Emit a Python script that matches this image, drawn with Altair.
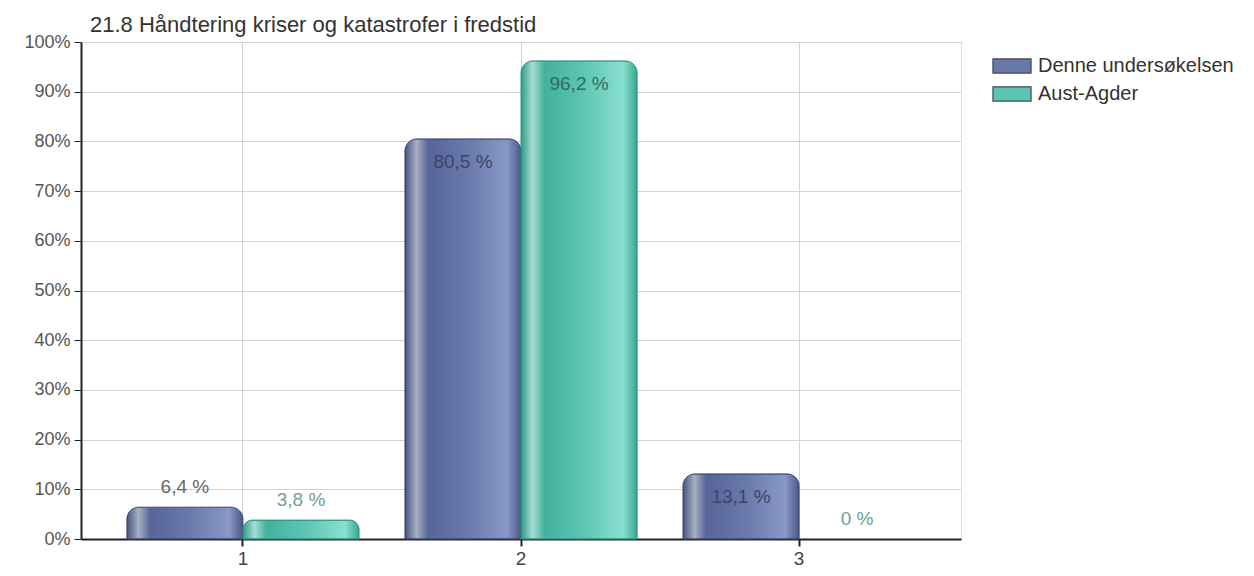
import altair as alt
import pandas as pd

categories = ["1", "2", "3"]
series = ["Denne undersøkelsen", "Aust-Agder"]
denne = [6.4, 80.5, 13.1]
aust = [3.8, 96.2, 0.0]
y_ticks = [0, 10, 20, 30, 40, 50, 60, 70, 80, 90, 100]
title_text = "21.8 Håndtering kriser og katastrofer i fredstid"

rows = []
for c, v in zip(categories, denne):
    rows.append({"cat": c, "series": series[0], "v": v})
for c, v in zip(categories, aust):
    rows.append({"cat": c, "series": series[1], "v": v})
df = pd.DataFrame(rows)

FONT = "Liberation Sans"
blue = "#6878a8"
teal = "#5cc4b2"

x_enc = alt.X(
    "cat:N",
    sort=categories,
    scale=alt.Scale(paddingInner=0.165, paddingOuter=0.165),
    axis=alt.Axis(
        title=None, labelAngle=0, bandPosition=0.5, grid=True,
        gridColor="#d2d4d7", domainColor="#222", domainWidth=2,
        tickColor="#222", tickWidth=2, tickSize=7, labelPadding=3,
        labelFontSize=19, labelColor="#444", labelFont=FONT,
    ),
)
xo_enc = alt.XOffset("series:N", sort=series,
                     scale=alt.Scale(domain=series, paddingInner=0, paddingOuter=0))
y_enc = alt.Y(
    "v:Q",
    scale=alt.Scale(domain=[0, 100], nice=False),
    axis=alt.Axis(
        title=None, values=y_ticks, labelExpr="datum.value + '%'",
        gridColor="#d2d4d7", domainColor="#222", domainWidth=2,
        tickColor="#222", tickSize=7, labelPadding=4,
        labelFontSize=18, labelColor="#555", labelFont=FONT,
    ),
)

base = alt.Chart(df)

legend_layer = base.mark_bar(opacity=0).encode(
    x=x_enc, xOffset=xo_enc, y=y_enc,
    color=alt.Color(
        "series:N", sort=series,
        scale=alt.Scale(domain=series, range=[blue, teal]),
        legend=alt.Legend(
            title=None, orient="none", legendX=915, legendY=8,
            symbolType="M-1.27,-0.47L1.27,-0.47L1.27,0.47L-1.27,0.47Z", symbolSize=900,
            symbolStrokeColor="#445", symbolStrokeWidth=1.2, symbolOpacity=1,
            labelFontSize=20, labelColor="#333", labelFont=FONT,
            labelOffset=10, rowPadding=2, padding=0, labelLimit=300,
        ),
    ),
)

grad_blue = alt.Gradient(
    gradient="linear", x1=0, x2=1, y1=0, y2=0,
    stops=[
        alt.GradientStop(offset=0, color="#45537d"),
        alt.GradientStop(offset=0.1, color="#a9b0c3"),
        alt.GradientStop(offset=0.2, color="#56659a"),
        alt.GradientStop(offset=0.55, color="#6a7aac"),
        alt.GradientStop(offset=0.88, color="#8898c8"),
        alt.GradientStop(offset=1, color="#4a5886"),
    ],
)
grad_teal = alt.Gradient(
    gradient="linear", x1=0, x2=1, y1=0, y2=0,
    stops=[
        alt.GradientStop(offset=0, color="#2e9a88"),
        alt.GradientStop(offset=0.1, color="#a8ddd3"),
        alt.GradientStop(offset=0.2, color="#45b09e"),
        alt.GradientStop(offset=0.55, color="#5ec6b4"),
        alt.GradientStop(offset=0.88, color="#8adfd0"),
        alt.GradientStop(offset=1, color="#3aa593"),
    ],
)

bar_blue = base.transform_filter(
    (alt.datum.series == series[0]) & (alt.datum.v > 0)
).mark_bar(
    fill=grad_blue, stroke="#3d4a72", strokeWidth=1,
    cornerRadiusTopLeft=12, cornerRadiusTopRight=12,
).encode(x=x_enc, xOffset=xo_enc, y=y_enc)

bar_teal = base.transform_filter(
    (alt.datum.series == series[1]) & (alt.datum.v > 0)
).mark_bar(
    fill=grad_teal, stroke="#2f9482", strokeWidth=1,
    cornerRadiusTopLeft=12, cornerRadiusTopRight=12,
).encode(x=x_enc, xOffset=xo_enc, y=y_enc)

lbl = base.transform_calculate(
    label="datum.v == 0 ? '0 %' : replace(format(datum.v, '.1f'), '.', ',') + ' %'"
)

text_in = lbl.transform_filter(alt.datum.v > 10).mark_text(
    dy=23, fontSize=19, font=FONT, baseline="middle"
).encode(
    x=x_enc, xOffset=xo_enc, y=y_enc, text="label:N",
    color=alt.condition(alt.datum.series == series[1],
                        alt.value("#2d6e63"), alt.value("#3a4568")),
)
text_out = lbl.transform_filter(alt.datum.v <= 10).mark_text(
    dy=-20, fontSize=19, font=FONT, baseline="middle"
).encode(
    x=x_enc, xOffset=xo_enc, y=y_enc, text="label:N",
    color=alt.condition(alt.datum.series == series[1],
                        alt.value("#6f9f98"), alt.value("#666666")),
)

chart = alt.layer(legend_layer, bar_blue, bar_teal, text_in, text_out).properties(
    width=880, height=497,
    title=alt.TitleParams(title_text, anchor="start", frame="group", dx=9, dy=11,
                          fontSize=22, fontWeight="normal", font=FONT,
                          color="#333", offset=7),
    autosize=alt.AutoSizeParams(type="none"),
    padding={"left": 73, "top": 34, "right": 285, "bottom": 29},
).configure_view(
    fill="#e7e8ea", stroke="#9c9c9c", strokeWidth=1.5,
).configure(background="white")

chart.save("out.html", embed_options={"renderer": "svg", "actions": False})
